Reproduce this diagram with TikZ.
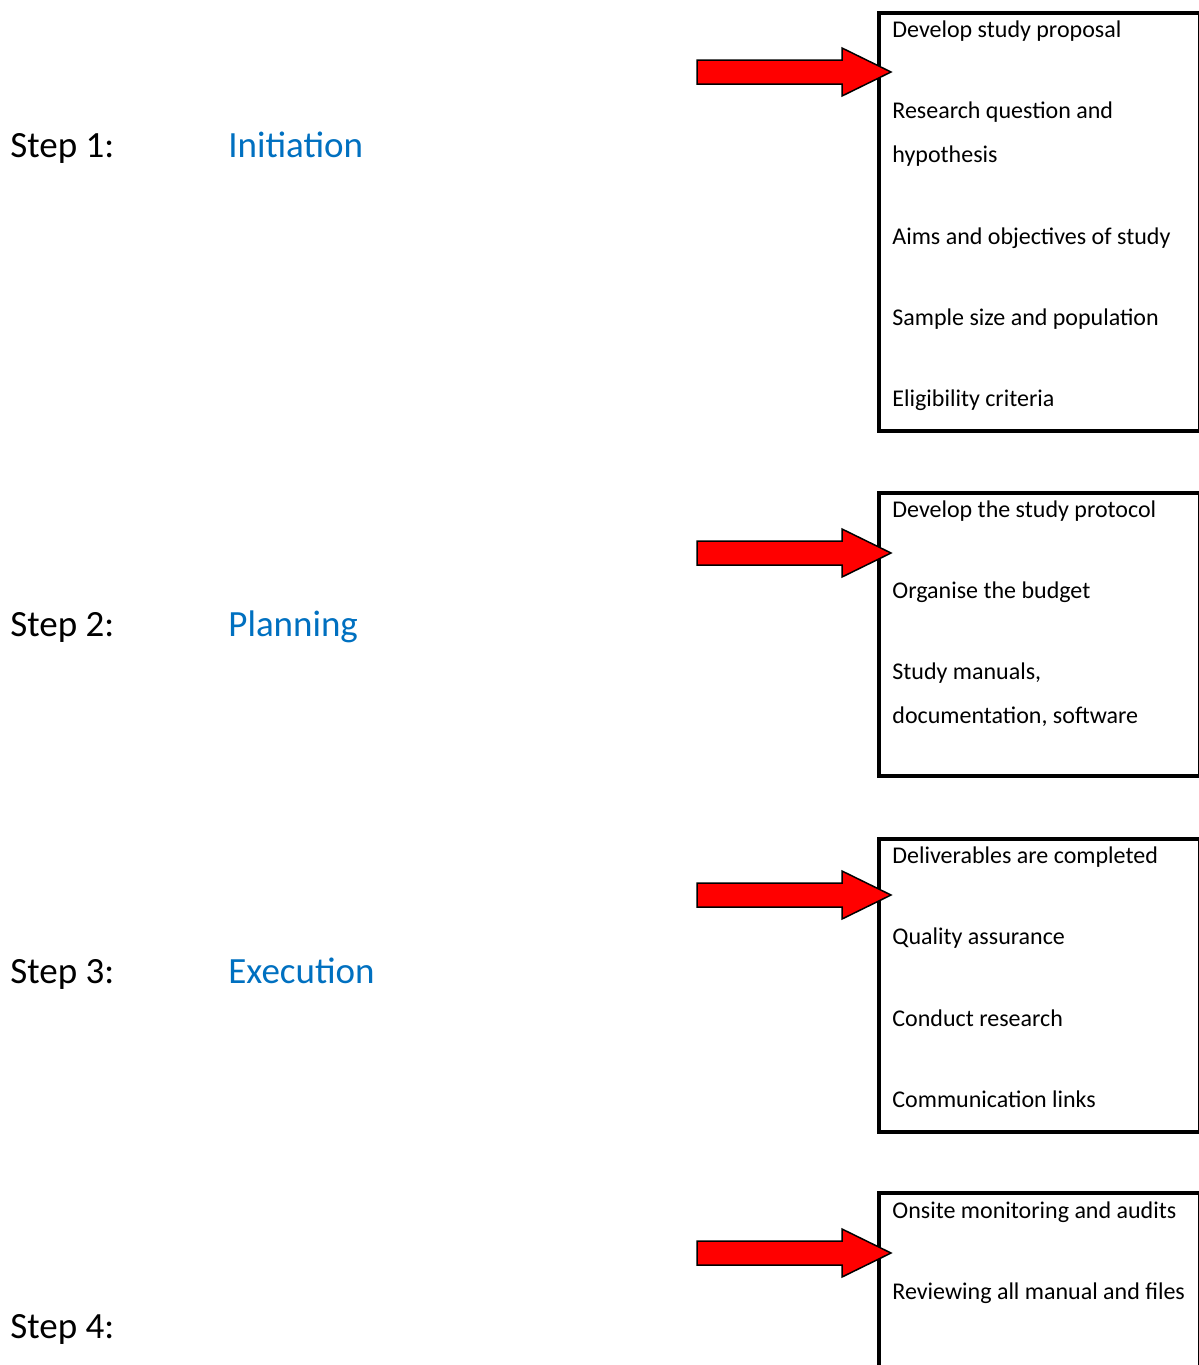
\documentclass[tikz,border=0pt]{standalone}
\usepackage{fontspec}
\setmainfont{Carlito}
\usetikzlibrary{positioning}

\definecolor{phaseblue}{RGB}{0,112,192}

\begin{document}
\begin{tikzpicture}[
  x=0.5pt, y=-0.5pt,
  steplabel/.style={anchor=base west,inner sep=0pt,font=\fontsize{18.5}{22}\selectfont},
  phaselabel/.style={steplabel,text=phaseblue},
  item/.style={anchor=base west,inner sep=0pt,font=\fontsize{12}{15}\selectfont},
  taskbox/.style={draw,line width=1.75pt,anchor=north west,minimum width=160.5pt,inner sep=0pt},
  blockarrow/.style={draw,fill=red,line width=0.75pt,line join=miter},
]
\useasboundingbox (0,0) rectangle (1199,1365);
\clip (0,0) rectangle (1199,1365);

\node[steplabel] (s1) at (10,157) {Step 1:};
\node[steplabel] (s2) at (10,636) {Step 2:};
\node[steplabel] (s3) at (10,983) {Step 3:};
\node[steplabel] (s4) at (10,1338) {Step 4:};

\node[phaselabel] (p1) at (228,157) {Initiation};
\node[phaselabel] (p2) at (228,636) {Planning};
\node[phaselabel] (p3) at (228,983) {Execution};

\node[taskbox,minimum height=209pt] (b1) at (877,11) {};
\node[taskbox,minimum height=141.5pt] (b2) at (877,491) {};
\node[taskbox,minimum height=146.5pt] (b3) at (877,837) {};
\node[taskbox,minimum height=200pt] (b4) at (877,1191) {};

\node[item] (b1a) at (892,37) {Develop study proposal};
\node[item] (b1b) at (892,118) {Research question and};
\node[item] (b1c) at (892,162) {hypothesis};
\node[item] (b1d) at (892,244) {Aims and objectives of study};
\node[item] (b1e) at (892,325) {Sample size and population};
\node[item] (b1f) at (892,406) {Eligibility criteria};

\node[item] (b2a) at (892,517) {Develop the study protocol};
\node[item] (b2b) at (892,598) {Organise the budget};
\node[item] (b2c) at (892,679) {Study manuals,};
\node[item] (b2d) at (892,723) {documentation, software};

\node[item] (b3a) at (892,863) {Deliverables are completed};
\node[item] (b3b) at (892,944) {Quality assurance};
\node[item] (b3c) at (892,1026) {Conduct research};
\node[item] (b3d) at (892,1107) {Communication links};

\node[item] (b4a) at (892,1218) {Onsite monitoring and audits};
\node[item] (b4b) at (892,1299) {Reviewing all manual and files};

% red arrows pointing into the boxes
\coordinate (t1) at (891,72);
\coordinate (t2) at (891,553);
\coordinate (t3) at (891,895);
\coordinate (t4) at (891,1253);
\draw[blockarrow] (t1) -- ++(-49,-24) -- ++(0,12) -- ++(-145,0) -- ++(0,24) -- ++(145,0) -- ++(0,12) -- cycle;
\draw[blockarrow] (t2) -- ++(-49,-24) -- ++(0,12) -- ++(-145,0) -- ++(0,24) -- ++(145,0) -- ++(0,12) -- cycle;
\draw[blockarrow] (t3) -- ++(-49,-24) -- ++(0,12) -- ++(-145,0) -- ++(0,24) -- ++(145,0) -- ++(0,12) -- cycle;
\draw[blockarrow] (t4) -- ++(-49,-24) -- ++(0,12) -- ++(-145,0) -- ++(0,24) -- ++(145,0) -- ++(0,12) -- cycle;
\end{tikzpicture}
\end{document}
